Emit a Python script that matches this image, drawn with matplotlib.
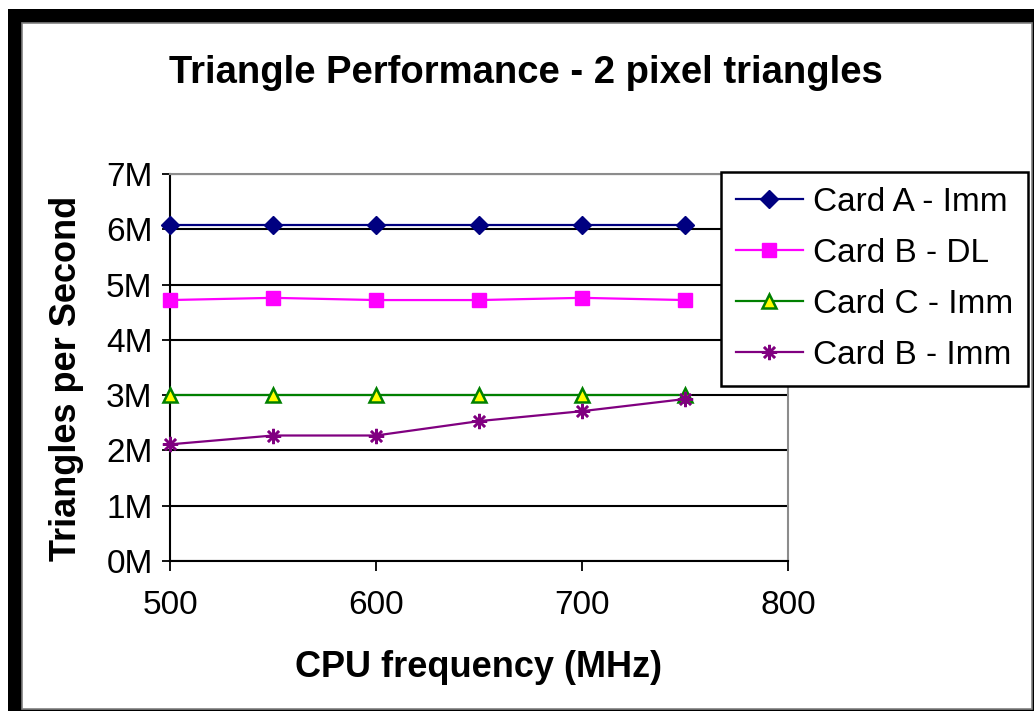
import numpy as np
import matplotlib
matplotlib.use('Agg')
import matplotlib.pyplot as plt
from matplotlib.patches import Rectangle

# CPU clock (MHz) and triangles per second (millions)
cpu_mhz = [500, 550, 600, 650, 700, 750]
card_a_imm = [6.08, 6.08, 6.08, 6.08, 6.08, 6.08]
card_b_dl = [4.72, 4.76, 4.72, 4.72, 4.76, 4.72]
card_c_imm = [3.0, 3.0, 3.0, 3.0, 3.0, 3.0]
card_b_imm = [2.11, 2.27, 2.27, 2.53, 2.71, 2.93]

y_ticks = [0, 1, 2, 3, 4, 5, 6, 7]
y_tick_labels = ['0M', '1M', '2M', '3M', '4M', '5M', '6M', '7M']
x_ticks = [500, 600, 700, 800]

plt.rcParams['font.family'] = ['Liberation Sans', 'DejaVu Sans']

W, H = 1034, 711
fig = plt.figure(figsize=(W / 100, H / 100), dpi=100)

# black frame with a white panel on top
fig.patches.append(Rectangle((8 / W, 0), 1 - 8 / W, 1 - 9 / H, transform=fig.transFigure,
                             facecolor='black', edgecolor='none', zorder=-2))
fig.patches.append(Rectangle((22 / W, 2 / H), (1032 - 22) / W, (709 - 23) / H, transform=fig.transFigure,
                             facecolor='white', edgecolor='#808080', linewidth=1.2, zorder=-1))

ax = fig.add_axes([170 / W, 1 - 561 / H, (788 - 170) / W, (561 - 174) / H])
ax.set_facecolor('none')

ax.plot(cpu_mhz, card_a_imm, color='#000080', lw=1.6, marker='D', ms=9.5,
        mfc='#000080', mec='#000080', label='Card A - Imm', clip_on=False, zorder=5)
ax.plot(cpu_mhz, card_b_dl, color='#FF00FF', lw=1.6, marker='s', ms=10,
        mfc='#FF00FF', mec='#FF00FF', label='Card B - DL', clip_on=False, zorder=5)
ax.plot(cpu_mhz, card_c_imm, color='#008000', lw=1.6, marker='^', ms=10,
        mfc='#FFFF00', mec='#008000', mew=1.8, label='Card C - Imm', clip_on=False, zorder=5)
ax.plot(cpu_mhz, card_b_imm, color='#800080', lw=1.6, marker=(8, 2, 0), ms=11,
        mfc='#800080', mec='#800080', mew=1.8, label='Card B - Imm', clip_on=False, zorder=5)

ax.set_xlim(500, 800)
ax.set_ylim(0, 7)
ax.set_xticks(x_ticks)
ax.set_yticks(y_ticks)
ax.set_yticklabels(y_tick_labels)
ax.grid(axis='y', color='black', lw=1.5)
ax.set_axisbelow(True)

for s in ['top', 'right']:
    ax.spines[s].set_color('#8c8c8c')
    ax.spines[s].set_linewidth(1.5)
for s in ['left', 'bottom']:
    ax.spines[s].set_color('black')
    ax.spines[s].set_linewidth(1.5)

ax.tick_params(axis='y', direction='inout', length=11, width=1.3, labelsize=24, pad=7)
ax.tick_params(axis='x', direction='out', length=7, width=1.3, labelsize=24, pad=14)

fig.text(0.509, 0.897, 'Triangle Performance - 2 pixel triangles', ha='center', va='center',
         fontsize=27.5, fontweight='bold')
fig.text(0.064, 0.468, 'Triangles per Second', rotation=90, ha='center', va='center',
         fontsize=26, fontweight='bold')
fig.text(0.463, 0.0605, 'CPU frequency (MHz)', ha='center', va='center',
         fontsize=26, fontweight='bold')

leg = fig.legend(loc='upper right', bbox_to_anchor=(1028 / W, 1 - 172 / H),
                 bbox_transform=fig.transFigure, fontsize=24, frameon=True, fancybox=False,
                 handlelength=2.0, handletextpad=0.3, labelspacing=0.6, borderpad=0.45,
                 borderaxespad=0)
leg.get_frame().set_edgecolor('black')
leg.get_frame().set_linewidth(1.8)
leg.get_frame().set_alpha(1)

fig.savefig('out.png', dpi=100)
